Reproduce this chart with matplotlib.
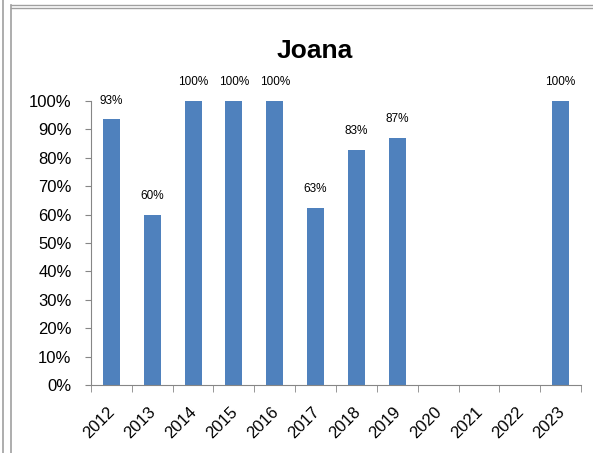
import matplotlib.pyplot as plt
import numpy as np
from matplotlib.lines import Line2D
from matplotlib.transforms import ScaledTranslation

years = ['2012', '2013', '2014', '2015', '2016', '2017',
         '2018', '2019', '2020', '2021', '2022', '2023']
values = [0.935, 0.60, 1.0, 1.0, 1.0, 0.625, 0.827, 0.87,
          np.nan, np.nan, np.nan, 1.0]
labels = ['93%', '60%', '100%', '100%', '100%', '63%',
          '83%', '87%', '', '', '', '100%']

plt.rcParams['font.family'] = ['Liberation Sans', 'DejaVu Sans']

fig = plt.figure(figsize=(5.93, 4.53), dpi=100)
ax = fig.add_axes([91/593, 68/453, 490/593, 284/453])

ind = np.arange(len(years))
ax.bar(ind, values, 0.42, color='#4F81BD', zorder=2)
for i, (v, lab) in enumerate(zip(values, labels)):
    if lab:
        ax.text(i, v + 0.045, lab, ha='center', va='bottom', fontsize=8.5)

ax.set_xlim(-0.5, len(years) - 0.5)
ax.set_ylim(0, 1)
ax.set_yticks(np.arange(0, 1.01, 0.1))
ax.set_yticklabels(['{}%'.format(int(round(t * 100))) for t in np.arange(0, 1.01, 0.1)],
                   fontsize=12)
ax.set_xticks(ind)
ax.set_xticklabels(years, rotation=45, ha='right', rotation_mode='anchor', fontsize=12)
ax.set_xticks(np.arange(-0.5, len(years), 1), minor=True)
ax.tick_params(axis='x', which='major', length=0, pad=14)
ax.tick_params(axis='x', which='minor', length=5, color='#868686')
ax.tick_params(axis='y', length=4, color='#868686', pad=10)

# nudge the rotated year labels a bit to the left
shift = ScaledTranslation(-4/100, 0, fig.dpi_scale_trans)
for t in ax.get_xticklabels():
    t.set_transform(t.get_transform() + shift)

for s in ['top', 'right']:
    ax.spines[s].set_visible(False)
for s in ['left', 'bottom']:
    ax.spines[s].set_color('#868686')

fig.text(315/593, 1 - 51/453, 'Joana', ha='center', va='center',
         fontsize=19, fontweight='bold')

# frame lines around the chart
fig.add_artist(Line2D([3/593, 3/593], [0, 1], color='#a0a0a0', lw=1.2))
fig.add_artist(Line2D([11/593, 11/593], [0, 1 - 5/453], color='#a0a0a0', lw=1.2))
fig.add_artist(Line2D([11/593, 1], [1 - 5/453, 1 - 5/453], color='#a0a0a0', lw=1))
fig.add_artist(Line2D([11/593, 1], [1 - 8/453, 1 - 8/453], color='#a0a0a0', lw=1))

plt.savefig('out.png', dpi=100)
